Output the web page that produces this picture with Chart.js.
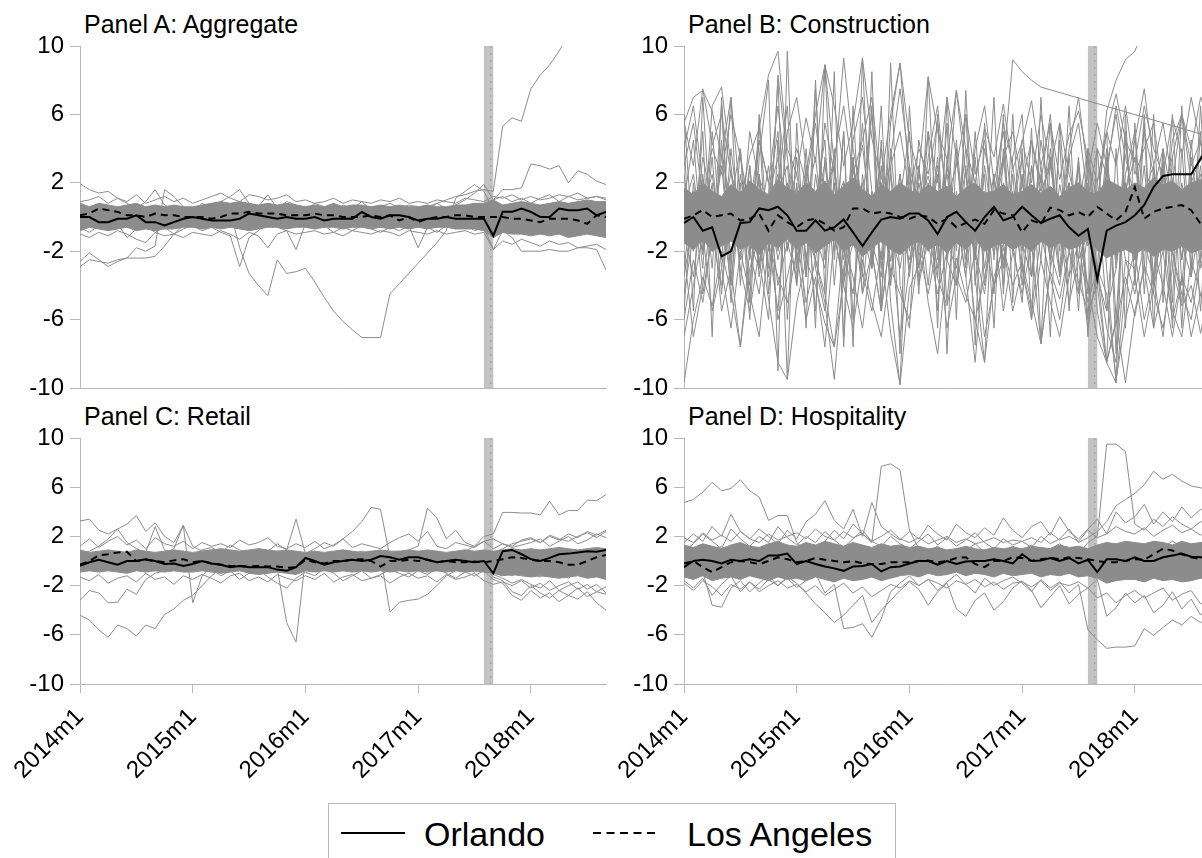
<!DOCTYPE html>
<html>
<head>
<meta charset="utf-8">
<script src="https://cdn.jsdelivr.net/npm/chart.js@4"></script>
<style>
  body { margin: 0; width: 1202px; height: 858px; overflow: hidden; background: #fff; position: relative;
         font-family: "Liberation Sans", Arial, sans-serif; color: #000; }
  canvas { position: absolute; }
  .ttl { position: absolute; font-size: 25px; line-height: 1; white-space: nowrap; }
  #legend { position: absolute; left: 328px; top: 803px; width: 566px; height: 80px; border: 1.5px solid #b8b8b8; background: #fff; }
  .lt { position: absolute; font-size: 34px; line-height: 1; white-space: nowrap; }
  svg { position: absolute; }
</style>
</head>
<body>
<div class="ttl" style="left:84px;top:12px">Panel A: Aggregate</div>
<div class="ttl" style="left:688px;top:12px">Panel B: Construction</div>
<div class="ttl" style="left:84px;top:404px">Panel C: Retail</div>
<div class="ttl" style="left:688px;top:404px">Panel D: Hospitality</div>

<canvas id="pA" width="620" height="410" style="left:0;top:0"></canvas>
<canvas id="pB" width="620" height="410" style="left:604px;top:0"></canvas>
<canvas id="pC" width="620" height="466" style="left:0;top:392px"></canvas>
<canvas id="pD" width="620" height="466" style="left:604px;top:392px"></canvas>

<div id="legend">
  <svg width="70" height="10" style="left:12px;top:24px"><line x1="0" y1="5" x2="64" y2="5" stroke="#000" stroke-width="2"/></svg>
  <div class="lt" style="left:95px;top:13px">Orlando</div>
  <svg width="70" height="10" style="left:264px;top:24px"><line x1="0" y1="5" x2="62" y2="5" stroke="#000" stroke-width="2" stroke-dasharray="8 5.5"/></svg>
  <div class="lt" style="left:358px;top:13px">Los Angeles</div>
</div>

<script>
// monthly index 0 = 2014m1 ... 56 = 2018m9
const xTickPos = [0, 12, 24, 36, 48];
const xTickLabels = ['2014m1', '2015m1', '2016m1', '2017m1', '2018m1'];
const yTicks = [-10, -6, -2, 2, 6, 10];
const bandFrom = 43, bandTo = 44; // 2017m8 - 2017m9

// ---------- Panel A: Aggregate ----------
const orlandoA = [
  0.0,0.0,-0.3,-0.3,-0.1,-0.1,0.1,-0.3,-0.3,-0.5,-0.3,-0.1,
  0.0,-0.1,-0.2,-0.2,-0.2,-0.1,0.2,0.1,0.0,-0.1,0.0,-0.1,
  -0.1,0.0,-0.2,-0.1,-0.1,-0.1,0.3,0.0,-0.1,0.1,0.1,0.0,
  -0.2,-0.1,-0.1,0.0,-0.1,-0.1,-0.1,-0.1,-1.1,0.3,0.3,0.5,
  0.3,0.0,0.0,0.5,0.4,0.4,0.5,0.1,0.3];
const laA = [
  0.1,0.2,0.5,0.4,0.3,0.1,0.1,0.0,0.2,0.1,0.1,0.0,
  0.0,0.0,-0.1,0.0,0.2,0.2,0.3,0.2,0.2,0.2,0.1,0.1,
  0.1,0.2,0.1,0.1,0.0,0.0,0.0,0.1,0.0,0.1,-0.2,0.0,
  -0.3,-0.1,0.0,0.0,0.1,0.1,0.0,0.0,0.0,0.0,-0.1,-0.1,
  -0.2,-0.3,-0.1,-0.1,-0.1,-0.2,-0.4,0.1,0.0];
const coreHiA = [
  0.8,0.6,0.8,0.7,0.6,0.7,0.8,0.6,0.7,0.6,0.7,0.6,
  0.6,0.7,0.8,0.9,0.8,0.9,0.8,0.7,0.8,0.7,0.8,0.7,
  0.6,0.7,0.6,0.8,0.6,0.7,0.7,0.6,0.7,0.6,0.7,0.6,
  0.6,0.7,0.6,0.6,0.7,0.7,0.8,0.8,1.0,0.7,0.8,0.9,
  0.8,0.7,0.8,0.9,0.8,0.9,1.0,0.9,0.9];
const coreLoA = [
  -0.8,-0.6,-0.7,-0.8,-0.7,-0.6,-0.8,-0.7,-0.8,-0.7,-0.7,-0.6,
  -0.6,-0.7,-0.6,-0.7,-0.6,-0.7,-0.8,-0.7,-0.6,-0.6,-0.7,-0.6,
  -0.6,-0.7,-0.6,-0.6,-0.7,-0.6,-0.6,-0.7,-0.6,-0.7,-0.6,-0.7,
  -0.6,-0.7,-0.6,-0.6,-0.7,-0.7,-0.7,-0.8,-1.2,-0.9,-1.0,-1.0,
  -1.1,-1.0,-1.1,-1.0,-1.2,-1.1,-1.0,-1.1,-1.2];
const greyA = [
  [0.3,0.1,0.4,0.2,0.0,0.3,0.1,0.2,0.4,0.1,0.2,0.0,
   0.3,0.1,0.2,0.4,0.1,0.3,0.2,0.0,0.2,0.3,0.1,0.4,
   0.2,0.1,0.3,0.0,0.2,0.1,0.3,0.2,0.1,0.4,0.2,0.3,
   0.5,0.6,0.8,1.0,1.2,1.3,1.5,1.6,1.5,5.3,5.8,5.6,
   7.5,8.3,8.9,9.7,10.6,11.2,11.8,12.3,12.6],
  [0.1,-0.2,0.0,-0.3,0.1,-0.1,0.2,0.0,-0.2,0.1,0.0,-0.3,
   0.1,-0.1,0.2,0.3,0.3,-1.8,-3.3,-4.0,-4.6,-2.5,-3.3,-3.2,
   -3.0,-3.8,-4.7,-5.5,-6.1,-6.6,-7.05,-7.05,-7.05,-4.5,-3.9,-3.3,
   -2.7,-2.1,-1.5,-0.8,1.1,1.5,1.9,1.5,0.4,0.2,-0.3,0.1,
   -0.2,0.0,0.3,-0.1,0.2,0.0,-0.2,0.1,0.0],
  [-2.6,-2.1,-2.5,-2.9,-2.6,-2.4,-2.4,-2.4,-2.3,-1.7,-1.0,-0.5,
   0.1,-0.2,0.3,0.0,-0.3,0.2,-0.1,0.3,0.0,-0.2,0.1,-0.4,
   0.0,0.2,-0.3,0.1,-0.1,0.3,0.0,-0.2,0.2,0.0,-0.1,0.2,
   -0.3,0.1,0.0,-0.2,0.3,0.0,-0.1,0.2,-0.6,0.0,-0.4,0.1,
   -0.3,0.2,-0.5,0.0,-0.2,0.3,-0.4,0.1,-0.3],
  [-2.9,-2.5,-2.6,-2.7,-2.5,-2.4,-1.8,-2.0,-1.7,1.6,1.2,0.6,
   0.2,-0.2,0.4,0.0,-0.3,0.2,0.5,0.1,-0.2,0.3,0.0,-0.2,
   -0.2,0.3,0.1,-0.3,0.2,0.0,0.4,-0.1,0.2,0.0,-0.3,0.1,
   0.2,-0.1,0.3,0.0,-0.2,0.4,0.1,-0.1,0.5,-0.3,0.2,0.0,
   0.3,-0.2,0.1,0.4,-0.1,0.2,0.0,0.3,0.1],
  [1.95,1.6,1.4,1.5,1.1,0.8,0.5,0.9,1.6,0.7,0.4,0.6,
   0.3,0.8,0.5,0.9,1.2,1.6,0.8,0.6,1.3,0.5,0.9,0.7,
   0.4,0.8,0.6,0.3,0.7,0.5,0.9,0.4,0.6,0.8,0.5,0.7,
   0.6,0.4,0.8,0.5,0.7,1.0,1.4,1.9,1.0,1.2,0.9,1.1,
   0.8,1.1,1.3,0.9,1.2,1.0,1.1,1.2,1.0],
  [-0.4,-0.1,-0.3,0.0,-0.2,-0.5,-0.1,-0.3,0.1,-0.2,-0.4,0.0,
   -0.2,-0.5,-0.1,-0.3,0.0,-0.6,-0.2,-0.4,-0.1,-0.3,0.0,-0.2,
   -0.5,-0.1,-0.3,0.0,-0.4,-0.2,-0.6,-0.1,-0.3,-0.5,0.0,-0.2,
   -0.4,-0.1,-0.3,0.0,-0.2,0.2,0.4,0.5,1.0,1.6,1.6,1.7,
   3.1,3.0,2.8,3.0,2.0,2.7,2.5,2.1,1.9],
  [-0.6,-0.9,-0.5,-0.8,-0.4,-1.2,-0.7,-0.5,-0.9,-0.6,-1.0,-0.7,
   -0.5,-0.8,-0.6,-0.9,-1.1,-2.9,-1.2,-0.8,-0.3,-0.6,-0.8,-1.9,
   -0.4,-0.7,-0.5,-0.9,-0.6,-0.8,-0.5,-0.7,-0.9,-0.6,-0.8,-0.5,
   -1.8,-0.6,-0.9,-0.5,-0.7,-0.4,-0.8,-0.6,-1.9,-0.8,-1.2,-2.0,
   -2.0,-2.0,-1.9,-2.0,-2.0,-1.8,-1.8,-1.9,-3.1],
  [0.9,1.0,1.2,0.8,1.1,0.9,1.3,0.8,1.0,1.2,0.9,1.1,
   0.8,1.0,1.2,1.4,1.1,0.9,1.3,1.2,1.0,1.1,1.3,0.9,
   1.0,0.8,0.9,1.1,0.8,1.0,0.9,0.8,1.0,0.9,1.1,0.8,
   0.9,0.8,1.0,0.9,0.8,1.1,1.0,0.9,1.2,1.1,1.3,1.0,
   1.2,1.0,1.1,1.3,1.2,1.4,1.1,1.2,1.1],
  [-1.0,-1.2,-0.9,-1.1,-0.8,-1.0,-1.3,-1.5,-0.9,-1.1,-1.0,-1.2,
   -0.9,-1.0,-1.1,-0.8,-1.0,-1.3,-0.9,-1.1,-1.8,-1.0,-0.8,-1.0,
   -0.9,-0.8,-1.0,-0.9,-1.1,-0.8,-0.9,-1.0,-0.8,-0.9,-1.1,-0.8,
   -0.9,-1.0,-0.8,-1.0,-0.9,-0.8,-1.0,-0.9,-1.9,-1.4,-1.6,-1.3,
   -1.5,-1.7,-1.4,-1.6,-1.5,-1.8,-1.7,-1.6,-1.9]
];

// ---------- Panel B: Construction ----------
const orlandoB = [
  -0.35,0.0,-0.8,-0.6,-2.3,-2.0,-0.35,-0.3,0.5,0.4,0.6,0.1,
  -0.8,-0.8,-0.2,-0.8,-0.6,-0.15,-0.9,-1.7,-0.9,-0.15,0.0,-0.1,
  0.2,0.2,-0.2,-1.0,0.0,0.3,-0.3,-0.8,0.0,0.6,-0.2,0.0,
  0.6,0.1,-0.35,-0.1,0.1,-0.6,-1.1,-0.7,-3.65,-0.8,-0.5,-0.3,
  0.1,0.7,1.75,2.4,2.5,2.5,2.5,3.4,4.2];
const laB = [
  -0.1,0.1,0.4,0.0,0.1,0.2,-0.2,-0.1,0.2,-0.8,0.1,-0.3,
  -0.6,-0.2,-0.1,-0.4,-0.8,-0.6,0.5,0.5,0.2,0.3,0.2,0.0,
  -0.1,0.1,0.0,-0.4,-0.1,-0.6,-0.35,-0.15,-0.4,0.4,0.2,0.1,
  -0.9,-0.2,-0.4,0.55,0.4,0.1,0.3,0.0,0.6,0.2,-0.2,0.3,
  1.75,-0.1,0.3,0.5,0.6,0.7,0.4,-0.4,-0.6];
const coreHiB = [
  1.7,1.3,2.0,1.5,1.2,1.9,1.4,2.1,1.6,1.3,2.2,1.7,
  1.4,2.0,1.5,2.1,1.3,1.8,2.3,1.6,1.2,1.9,1.5,2.0,
  1.6,1.3,1.9,1.5,1.8,1.2,1.7,2.0,1.4,1.5,1.9,1.3,
  1.5,1.9,1.4,1.8,1.2,1.7,2.0,1.5,1.3,2.2,1.9,1.6,
  2.0,1.7,2.3,1.9,2.1,1.6,2.0,2.2,1.8];
const coreLoB = [
  -1.5,-1.9,-1.3,-2.0,-1.7,-1.4,-1.9,-1.6,-2.2,-1.5,-1.8,-1.3,
  -1.9,-1.5,-2.1,-1.7,-1.3,-2.0,-1.6,-2.3,-1.8,-1.4,-1.9,-2.2,
  -1.7,-1.4,-1.9,-1.6,-2.1,-1.5,-1.9,-1.3,-2.0,-1.7,-1.5,-1.9,
  -1.6,-2.0,-1.4,-1.8,-1.5,-1.9,-1.7,-1.3,-1.9,-2.4,-2.1,-1.9,
  -2.2,-1.8,-2.3,-1.9,-2.0,-1.7,-2.1,-1.9,-1.8];
const greyB = [
  [5.5,7.0,7.4,6.2,3.5,1.0,-1.5,0.5,2.2,1.0,-0.5,0.8,
   -1.2,0.4,1.5,-0.8,0.6,2.1,-0.4,1.2,0.3,-1.5,0.7,1.8,
   -0.6,0.9,2.4,-0.2,1.1,-1.3,0.5,1.9,-0.7,0.3,3.0,9.2,
   8.5,8.0,7.6,null,null,null,null,null,null,null,null,null,
   null,null,null,null,null,null,null,null,4.7],
  [-1.5,0.8,-2.2,1.5,-0.4,2.6,-1.0,0.3,-2.8,1.2,3.5,-0.6,
   1.8,-2.4,0.5,3.1,-1.2,-3.5,1.6,4.2,-0.8,2.0,-2.6,0.9,
   -1.8,2.5,0.2,-3.0,1.4,-0.5,2.8,-1.6,0.6,-2.2,1.0,-0.3,
   2.2,-1.4,0.8,-2.5,1.9,-0.9,3.3,-1.7,0.4,6.2,8.0,9.2,
   9.7,11.0,12.0,12.5,13.0,13.5,14.0,14.0,14.5],
  [-9.7,-6.0,-3.5,-5.2,-2.0,-4.4,-7.6,-3.0,-1.2,-4.8,-8.5,-9.5,
   -5.0,-2.5,-4.0,-6.2,-7.6,-3.8,-1.5,-3.2,-5.5,-2.0,-6.8,-9.8,
   -4.2,-2.8,-1.0,-3.6,-5.2,-2.4,-4.6,-6.0,-8.5,-3.5,-1.8,-4.0,
   -2.6,-5.0,-7.4,-3.2,-4.8,-2.0,-3.8,-5.5,-4.0,-8.5,-6.2,-3.5,
   -5.8,-2.8,-4.5,-6.5,-3.0,-5.2,-4.0,-6.8,-3.8],
  [5.5,3.0,7.5,4.2,6.0,2.5,0.8,3.6,5.2,8.3,9.7,4.0,
   2.5,5.8,3.2,8.9,6.5,3.0,5.5,9.3,4.6,2.2,6.0,9.0,
   4.5,2.6,8.2,5.0,3.4,7.4,4.0,2.0,5.2,3.5,6.6,2.8,
   4.4,6.8,3.0,5.5,2.2,4.8,6.2,3.4,1.0,5.0,7.2,4.5,
   3.2,6.5,4.0,2.4,5.8,3.6,7.0,4.2,5.0],
  [4.5,-5.5,7.0,-2.0,6.5,-4.0,2.0,-6.0,3.5,8.0,-9.0,9.7,
   -4.0,3.0,-6.5,8.9,-2.5,5.0,-7.6,9.3,-3.0,4.5,-5.0,-9.8,
   3.0,-4.5,8.2,-2.5,5.5,-6.0,7.4,-3.5,-8.5,2.5,-4.0,6.0,
   -3.0,5.2,-7.4,3.5,-2.0,6.5,-4.5,2.0,-5.5,-8.5,4.0,-6.5,
   5.5,-3.0,6.0,-5.0,3.5,-6.5,4.5,-2.5,5.0],
  [-5.5,2.0,-3.0,5.0,-1.0,7.0,-4.0,3.0,-2.5,-6.0,4.5,-9.5,
   5.5,-3.5,8.0,-4.5,8.5,-7.6,3.5,-2.0,6.5,-5.5,9.0,-4.0,
   -6.5,3.0,-2.0,6.0,-8.0,4.0,-3.0,5.0,-2.0,7.0,-4.5,3.5,
   6.0,-3.5,2.5,-7.0,5.5,-2.0,3.0,-6.0,4.0,-3.0,-9.7,5.0,
   -2.5,6.0,-4.5,3.0,-6.5,4.0,-3.0,6.5,-4.0],
  [2.5,-1.5,3.5,1.0,-2.5,4.0,-0.5,2.0,-3.0,1.5,5.0,-2.0,
   3.5,-2.5,1.0,4.5,-4.0,2.0,-1.0,5.5,-2.5,3.0,-3.5,1.5,
   -2.0,4.5,1.5,-3.5,3.0,-1.0,4.0,-2.5,2.5,-4.5,2.0,0.5,
   3.5,-2.0,4.5,1.0,-3.0,3.5,-1.5,2.5,-4.0,3.0,-2.5,4.5,
   -1.5,3.0,-3.5,4.0,1.0,-2.5,3.5,-1.0,2.5],
  [-3.0,1.5,-4.5,-1.0,3.0,-2.5,1.0,-4.0,2.5,-1.5,-5.5,2.0,
   -2.0,4.0,-3.0,-5.5,2.5,-1.5,3.5,-4.5,1.5,-3.0,4.0,-2.0,
   3.0,-4.0,-1.0,2.5,-5.0,1.5,-2.5,3.5,-4.0,1.0,-3.0,2.5,
   -4.0,1.5,-2.5,4.0,-1.0,-3.5,2.0,-4.5,1.5,-5.5,-3.0,2.0,
   -3.5,1.0,-4.0,2.5,-2.0,-5.0,1.5,-3.0,-1.0],
  [1.0,4.5,-2.0,6.5,7.6,3.0,-1.5,5.0,2.0,-3.0,8.3,3.5,
   -1.0,2.5,6.0,8.9,3.0,-2.0,4.5,7.0,1.5,-2.5,5.5,9.0,
   2.0,-1.5,3.5,6.5,0.5,7.4,2.5,-2.0,4.0,1.0,5.5,3.0,
   -1.0,4.5,2.0,6.0,-0.5,3.5,5.5,1.0,4.0,2.5,6.5,3.5,
   1.0,5.0,2.5,-1.0,4.5,6.0,2.0,3.5,5.5],
  [-2.0,-7.0,-4.0,0.5,-5.5,-3.0,-7.6,-2.0,-4.5,0.0,-6.0,-3.5,
   -1.0,-5.0,-2.5,-4.5,-7.6,-1.5,-3.5,-6.5,-2.0,-5.5,-1.0,-7.0,
   -3.0,-0.5,-5.0,-8.0,-2.5,-4.0,-1.0,-6.0,-3.5,-0.5,-5.5,-2.0,
   -4.5,-1.5,-7.4,-3.0,-0.5,-5.0,-2.5,-6.5,-3.0,-8.5,-9.7,-4.0,
   -2.0,-6.0,-3.5,-1.0,-5.5,-7.0,-2.5,-4.5,-6.0],
  [0.5,2.5,-1.5,3.5,-3.0,1.0,4.0,-2.0,2.5,-3.5,1.5,3.0,
   -2.5,1.0,3.5,-1.5,2.0,-4.0,3.0,0.5,-2.0,4.0,-1.0,2.5,
   -3.5,1.5,-1.0,3.0,-2.5,4.5,-1.5,2.0,-3.0,1.0,3.5,-2.0,
   2.5,-3.5,1.0,3.5,-1.5,2.0,-2.5,4.0,-1.0,2.5,-3.0,1.5,
   3.5,-2.0,1.5,4.0,-3.0,2.0,-1.0,3.0,-2.5],
  [-4.5,-1.0,2.5,-3.0,4.5,-5.0,1.5,-2.0,5.5,-4.5,2.0,6.5,
   -3.0,1.5,-5.5,3.5,-2.0,5.0,-6.0,2.5,-1.5,6.5,-4.0,1.0,
   5.0,-3.0,2.0,-5.5,3.5,-2.0,6.0,-4.0,1.5,-6.5,4.0,-1.5,
   -5.0,3.0,-1.0,5.5,-3.5,1.0,-5.5,3.5,-2.0,4.0,-6.0,2.5,
   5.0,-4.5,3.0,-2.0,6.0,-4.0,2.5,-5.5,3.0],
  [-6.0,-2.5,-5.0,-1.0,-4.0,1.0,-3.0,-5.5,-2.0,0.5,-4.0,-1.5,
   -3.5,0.5,-2.5,-5.0,-9.5,-3.0,0.5,-4.5,-2.0,-5.5,-1.0,-3.0,
   0.5,-3.5,-1.5,-4.5,-2.0,0.0,-3.5,-8.5,-1.5,-4.0,-2.5,0.5,
   -3.0,-5.5,-1.0,-3.5,-6.0,-2.0,-4.5,-1.0,-3.0,-6.5,-8.5,-2.5,
   -4.5,-1.5,-3.5,-7.0,-2.0,-4.5,-6.0,-2.5,-4.0],
  [3.0,5.5,1.0,4.0,2.5,6.0,3.5,0.5,4.5,2.0,6.5,1.5,
   4.0,2.0,5.5,1.0,3.5,6.5,2.5,4.5,7.0,1.5,3.0,5.0,
   1.5,4.0,2.5,5.5,1.0,3.0,6.0,2.5,4.5,0.5,3.5,5.0,
   2.0,4.5,1.5,3.0,5.5,2.5,0.5,4.0,2.0,5.0,3.0,6.5,
   2.5,4.0,5.5,1.5,3.5,6.0,3.0,4.5,2.0],
  [-1.0,-3.5,1.0,-2.0,0.5,-4.0,2.5,-1.5,-3.0,1.0,-2.5,0.0,
   -4.0,1.5,-1.0,-3.0,2.0,-2.0,-4.5,1.0,-1.5,-3.5,2.5,-1.0,
   -2.5,0.5,-4.0,1.5,-1.5,-3.0,1.0,-2.0,-4.5,0.5,-2.5,1.5,
   -1.5,-3.5,1.0,-2.0,-4.0,0.5,-2.5,-1.0,-3.5,-5.5,1.0,-2.5,
   -3.0,0.5,-2.0,-4.0,1.5,-1.5,-3.5,0.0,-2.5],
  [6.0,-2.0,5.0,-7.0,7.0,-3.0,4.0,-5.0,6.0,-2.0,8.0,-6.0,
   2.0,-6.5,7.5,-2.5,4.0,-7.0,6.5,-3.5,8.5,-5.0,3.0,-8.0,
   6.5,-2.0,5.0,-6.5,7.0,-4.0,3.0,-7.5,5.5,-2.5,6.0,-5.0,
   4.0,-6.0,7.0,-3.0,4.5,-5.5,3.5,-7.0,2.0,5.0,-8.0,6.0,
   -4.0,5.5,-6.5,3.5,-5.0,6.5,-3.5,5.0,-6.0],
  [1.5,-2.0,0.5,2.5,-1.5,1.0,-2.5,2.0,-0.5,3.0,-2.0,1.0,
   2.5,-1.0,-2.5,1.5,3.0,-2.0,0.5,2.0,-3.0,1.0,-1.5,2.5,
   -1.0,3.0,-2.0,0.5,2.5,-1.5,1.0,-2.5,3.0,-0.5,1.5,-2.0,
   2.0,-1.0,3.0,-2.5,0.5,2.0,-1.5,1.5,-3.0,3.5,-1.0,2.0,
   -2.5,1.5,3.0,-1.0,2.0,-2.5,1.0,2.5,-1.5],
  [-3.5,0.0,-2.0,2.0,-4.5,1.5,-1.0,3.0,-3.5,0.5,2.5,-2.0,
   1.0,-3.5,2.5,-1.5,0.5,-2.5,3.0,-1.0,-3.0,2.0,-0.5,1.5,
   -3.0,2.0,-1.0,3.5,-2.5,0.5,-3.5,1.5,-1.0,2.5,-3.0,1.0,
   -2.0,3.0,-1.5,0.5,-3.5,2.0,-1.0,-4.0,-7.0,-8.5,-6.0,-9.7,
   -5.5,-3.0,-6.5,-4.0,-7.0,-3.5,-5.0,-2.0,-4.5],
  [4.0,6.5,2.0,-1.0,3.5,7.0,1.0,-2.5,4.5,2.0,-1.5,5.0,
   7.0,3.0,-0.5,5.5,2.5,9.3,4.0,1.0,6.0,-1.0,3.5,7.5,
   3.0,0.5,5.0,2.0,7.0,3.5,-1.0,4.0,6.5,2.0,5.0,0.5,
   4.5,2.0,6.0,3.0,-0.5,4.0,7.0,2.5,5.5,3.0,6.0,1.5,
   4.5,7.5,3.0,5.5,2.0,6.0,4.0,7.0,5.5],
  [-7.0,-4.0,-1.0,-5.5,-3.0,-6.5,-2.0,-4.5,-7.0,-1.5,-3.5,-5.0,
   -2.0,-6.0,-3.5,-7.6,-1.0,-4.0,-6.5,-2.5,-5.0,-7.0,-3.0,-4.5,
   -6.0,-2.0,-4.5,-1.5,-6.5,-3.5,-5.0,-2.0,-7.0,-4.0,-1.5,-5.5,
   -3.0,-6.0,-2.5,-5.0,-7.0,-3.5,-1.5,-5.0,-3.0,-4.5,-9.5,-6.0,
   -3.5,-7.0,-4.0,-2.0,-6.0,-3.5,-7.0,-4.5,-5.5]
];

// ---------- Panel C: Retail ----------
const orlandoC = [
  -0.4,-0.1,0.1,-0.1,-0.3,0.0,0.0,0.15,0.0,-0.25,-0.2,-0.4,
  -0.25,0.0,-0.2,-0.3,-0.5,-0.4,-0.5,-0.5,-0.5,-0.7,-0.8,-0.5,
  0.25,0.0,-0.3,-0.1,0.0,0.1,0.0,0.1,0.4,0.3,0.1,0.3,
  0.3,0.1,-0.1,0.0,0.1,0.0,-0.1,0.0,-1.0,0.8,0.9,0.55,
  0.15,0.0,0.25,0.55,0.6,0.7,0.8,0.75,0.9];
const laC = [
  -0.3,0.0,0.45,0.55,0.7,0.75,0.0,0.1,0.0,-0.1,0.05,0.15,
  -0.1,0.0,-0.2,-0.3,-0.4,-0.4,-0.45,-0.4,-0.45,-0.45,-0.55,-0.5,
  0.1,-0.1,-0.2,0.0,0.0,0.1,0.15,0.0,-0.45,0.0,0.0,0.1,
  0.0,0.1,-0.1,0.0,-0.1,-0.1,-0.05,-0.1,0.0,0.15,0.3,0.25,
  0.1,0.0,0.0,-0.1,-0.3,-0.3,0.0,0.3,0.5];
const coreHiC = [
  0.9,0.7,0.8,0.9,0.8,0.7,0.9,0.8,0.7,0.8,0.9,0.8,
  0.7,0.8,0.9,1.0,0.9,0.8,0.9,1.0,0.9,0.8,0.9,0.8,
  0.7,0.8,0.7,0.8,0.9,0.8,0.7,0.8,0.9,0.8,0.8,0.9,
  0.8,0.9,0.8,0.7,0.8,0.9,0.8,0.9,0.8,0.9,1.0,0.9,
  1.0,0.9,1.0,1.1,1.0,0.9,1.0,1.1,1.0];
const coreLoC = [
  -0.9,-0.8,-0.9,-0.8,-0.9,-1.0,-0.8,-0.9,-0.8,-0.9,-0.8,-0.9,
  -0.9,-0.8,-0.9,-1.0,-0.9,-0.8,-1.0,-1.1,-1.0,-0.9,-1.0,-1.1,
  -0.8,-0.9,-0.8,-0.9,-0.8,-0.9,-0.8,-0.9,-0.8,-0.9,-0.8,-0.9,
  -0.8,-0.9,-0.8,-0.9,-0.8,-0.9,-0.8,-0.9,-1.0,-1.2,-1.1,-1.2,
  -1.3,-1.2,-1.3,-1.4,-1.3,-1.2,-1.4,-1.3,-1.5];
const greyC = [
  [0.5,0.2,0.6,0.3,0.1,0.4,0.2,0.5,0.3,0.1,0.4,0.2,
   0.3,0.5,0.1,0.4,0.2,0.6,0.3,0.1,0.5,0.2,0.4,0.3,
   0.2,0.4,0.6,0.3,0.5,0.1,0.4,0.2,0.5,0.3,0.6,0.4,
   0.3,0.5,0.2,0.6,0.4,0.8,1.2,2.0,2.2,3.95,3.95,3.9,
   3.9,3.75,4.85,3.75,4.1,4.1,4.95,4.9,5.4],
  [-4.4,-4.8,-5.6,-6.2,-5.2,-5.5,-6.1,-5.2,-5.5,-4.35,-3.9,-3.2,
   -2.8,-2.0,-1.2,-0.6,-0.8,-0.5,-0.9,-0.6,-0.8,-0.4,-0.7,-0.5,
   -0.6,-0.3,-0.7,-0.5,-0.4,-0.6,-0.5,-0.3,-0.6,-0.4,-0.5,-0.7,
   -0.5,-0.6,-0.4,-0.7,-0.5,-0.3,-0.6,-0.5,-0.8,-1.0,-1.2,-0.9,
   -1.0,-1.3,-0.8,-1.1,-1.4,-0.9,-1.2,-1.0,-1.3],
  [-3.2,-2.4,-2.6,-3.4,-3.35,-2.3,-2.7,-1.5,-1.0,-0.8,-0.5,-0.7,
   -0.4,-0.8,-0.5,-0.6,-0.3,-0.7,-0.5,-0.4,-0.6,-0.8,-0.5,-0.3,
   -0.5,-0.7,-0.4,-0.6,-0.8,-0.5,-0.3,-0.6,-0.4,-0.7,-0.5,-0.6,
   -0.4,-0.6,-0.8,-0.5,-0.7,-0.4,-0.6,-0.5,-1.3,-1.6,-2.5,-2.8,
   -2.0,-2.6,-3.0,-2.4,-2.8,-2.2,-2.9,-2.5,-2.7],
  [3.25,3.4,2.5,2.2,2.6,3.0,3.7,2.4,3.1,2.0,1.5,2.9,
   1.2,0.8,0.9,0.6,0.8,0.5,0.7,0.9,0.6,0.8,0.5,0.7,
   0.6,0.8,0.5,0.7,0.9,0.6,0.8,0.5,0.7,0.6,0.8,0.5,
   0.7,0.6,0.8,0.5,0.7,0.9,0.6,0.8,0.7,1.0,1.4,1.6,
   1.8,1.5,2.0,1.7,2.2,1.9,2.4,2.1,2.5],
  [0.2,0.5,0.1,0.4,0.6,0.3,0.8,0.4,0.2,0.6,1.0,2.9,
   -3.4,-1.2,-0.5,0.2,0.6,0.3,0.7,0.9,0.4,-0.6,-5.0,-6.6,
   0.2,0.5,0.3,0.6,0.4,0.2,0.5,0.8,0.4,-4.15,-3.35,-3.2,
   -3.1,-2.7,-2.0,-1.2,-0.8,-0.5,-0.9,-0.6,-1.1,-1.4,-1.8,-1.5,
   -1.9,-2.2,-1.6,-2.4,-2.0,-1.7,-2.3,-1.9,-2.6],
  [0.5,0.8,1.2,1.8,2.6,1.5,1.0,0.7,2.8,0.9,0.6,0.8,
   0.5,0.9,1.1,0.7,1.3,0.9,0.6,1.0,0.8,1.4,0.9,3.4,
   0.6,1.0,1.5,1.2,1.8,2.4,3.2,4.35,4.2,0.3,0.6,0.9,
   1.2,4.3,3.5,1.8,2.5,1.5,1.2,1.6,1.0,1.4,1.1,1.3,
   1.5,1.8,1.2,1.6,2.0,1.4,1.7,2.2,1.9],
  [-0.5,-0.3,-0.7,-0.4,-0.6,-0.2,-0.5,-0.8,-0.4,-0.6,-0.3,-0.5,
   -0.7,-0.4,-0.6,-1.2,-0.8,-1.5,-1.0,-0.7,-1.3,-1.8,-2.2,-1.4,
   -0.9,-1.2,-0.6,-1.0,-1.6,-1.2,-0.8,-1.4,-1.1,-0.7,-1.0,-1.3,
   -0.8,-1.1,-0.6,-1.0,-1.4,-0.9,-1.2,-0.8,-1.5,-1.8,-2.8,-3.2,
   -2.4,-3.0,-2.6,-3.3,-2.8,-3.1,-2.5,-3.4,-4.0],
  [1.2,1.8,1.1,1.6,2.0,1.3,1.7,1.0,1.9,1.4,1.2,1.6,
   1.0,1.5,1.2,1.4,1.1,1.7,1.3,1.5,1.9,1.2,1.0,1.4,
   1.1,1.6,1.0,1.3,1.8,1.1,1.4,1.2,1.0,1.5,1.9,2.2,
   1.6,2.4,1.2,1.0,1.5,1.3,1.1,1.6,1.8,1.4,1.2,1.7,
   1.9,1.5,2.1,1.8,1.6,2.0,2.3,1.9,2.4],
  [-1.3,-1.6,-1.1,-1.8,-1.4,-1.2,-1.7,-1.0,-1.5,-1.3,-1.9,-1.2,
   -1.5,-1.1,-1.4,-1.8,-1.2,-1.0,-1.6,-1.3,-1.7,-1.1,-1.4,-1.6,
   -1.2,-1.5,-1.0,-1.7,-1.3,-1.1,-1.6,-1.4,-1.2,-1.8,-1.3,-1.0,
   -1.4,-1.2,-1.7,-1.1,-1.5,-1.3,-1.0,-1.6,-1.9,-1.7,-2.0,-1.6,
   -2.2,-1.8,-2.4,-2.0,-1.7,-2.3,-1.9,-2.5,-2.1]
];

// ---------- Panel D: Hospitality ----------
const orlandoD = [
  -0.5,0.0,0.1,0.0,-0.2,0.1,0.0,0.15,0.0,0.45,0.45,0.6,
  -0.25,0.0,-0.25,-0.45,-0.6,-0.8,-0.45,-0.4,-0.25,-0.85,-0.5,-0.45,
  -0.2,0.0,0.0,-0.3,0.0,-0.25,-0.05,0.0,0.0,0.15,0.0,-0.2,
  0.55,0.0,0.05,0.25,0.0,0.25,-0.2,0.1,-0.9,0.15,0.15,0.0,
  0.3,0.0,0.0,0.3,0.45,0.6,0.35,0.3,0.25];
const laD = [
  -0.2,0.0,-0.5,-0.9,-0.5,-0.1,0.0,-0.1,-0.25,0.0,0.3,0.15,
  -0.1,0.0,0.25,0.1,0.0,-0.1,0.0,-0.2,-0.25,-0.25,-0.1,-0.1,
  -0.1,0.0,0.05,-0.1,0.0,0.25,0.3,-0.25,-0.5,0.0,0.0,0.3,
  0.25,0.0,0.15,0.25,0.15,0.3,0.25,0.15,0.0,-0.1,-0.1,0.0,
  0.15,0.1,0.55,1.0,0.85,0.55,0.3,0.15,0.1];
const coreHiD = [
  1.3,1.1,1.4,1.2,1.0,1.3,1.5,1.2,1.1,1.4,1.6,1.3,
  1.2,1.5,1.3,1.6,1.4,1.2,1.5,1.3,1.1,1.4,1.2,1.3,
  1.1,1.2,1.0,1.1,0.9,1.0,1.2,1.0,0.9,1.1,1.0,1.1,
  1.0,1.2,1.1,1.0,1.3,1.1,1.2,1.0,1.3,1.5,1.4,1.6,
  1.5,1.4,1.6,1.5,1.3,1.6,1.4,1.5,1.6];
const coreLoD = [
  -1.3,-1.5,-1.2,-1.6,-1.4,-1.3,-1.5,-1.2,-1.4,-1.6,-1.3,-1.5,
  -1.4,-1.6,-1.3,-1.5,-1.7,-1.4,-1.6,-1.5,-1.3,-1.6,-1.4,-1.2,
  -1.1,-1.3,-1.0,-1.2,-1.1,-0.9,-1.2,-1.0,-1.1,-1.3,-1.0,-1.2,
  -1.1,-1.0,-1.3,-1.1,-1.2,-1.0,-1.3,-1.2,-1.4,-1.8,-1.6,-1.5,
  -1.5,-1.7,-1.4,-1.6,-1.5,-1.7,-1.6,-1.4,-1.6];
const greyD = [
  [4.75,5.0,5.6,6.4,5.7,5.9,6.6,5.7,5.2,3.3,3.7,3.7,
   1.5,0.8,1.2,0.6,0.9,0.5,1.0,0.7,0.4,0.8,0.6,0.9,
   0.5,0.7,1.0,0.6,0.8,0.4,0.7,0.5,0.9,0.6,0.8,0.5,
   0.7,0.9,0.6,0.8,0.5,0.7,1.0,0.8,0.6,0.9,1.1,0.8,
   1.0,0.7,0.9,1.2,0.8,1.1,0.9,1.3,1.0],
  [0.6,1.0,0.4,0.8,1.2,0.7,1.5,0.9,0.5,1.1,0.8,1.3,
   0.7,1.2,0.9,1.6,2.5,1.8,3.0,2.2,1.5,7.7,7.9,7.4,
   2.5,1.0,0.8,1.2,0.6,1.0,0.9,1.4,0.7,1.1,0.8,1.2,
   0.9,1.3,0.7,1.0,1.4,0.8,1.2,0.9,1.1,1.5,1.2,1.0,
   1.3,0.9,1.4,1.1,1.6,1.2,1.0,1.5,1.3],
  [-0.5,0.3,-0.2,0.6,0.1,-0.4,0.5,0.2,-0.3,0.4,0.0,0.3,
   0.2,-0.3,0.5,0.1,-0.2,0.4,0.0,0.3,-0.4,0.2,0.5,0.1,
   -0.2,0.3,0.6,0.0,0.4,-0.3,0.2,0.5,0.1,-0.2,0.4,0.0,
   0.3,-0.1,0.5,0.2,0.0,0.4,0.6,1.5,2.0,9.5,9.5,8.9,
   3.0,2.5,3.4,2.8,3.6,3.0,2.6,3.2,2.9],
  [0.8,1.4,2.2,1.6,1.0,2.6,1.8,1.2,2.0,1.5,2.8,1.9,
   1.3,2.0,1.5,2.4,1.7,1.1,1.8,2.5,1.6,1.2,2.0,1.4,
   1.0,1.6,2.2,1.3,1.9,1.2,1.7,2.3,1.5,1.0,1.8,1.3,
   1.6,1.1,2.0,1.4,1.8,2.6,1.5,1.9,2.4,3.2,4.5,5.0,
   5.5,6.2,7.3,6.65,7.05,6.5,6.1,5.95,5.8],
  [-0.8,-1.5,-0.9,-3.6,-3.75,-2.2,-1.6,-2.5,-1.8,-1.2,-2.0,-1.4,
   -2.15,-1.6,-1.0,-2.6,-1.9,-5.5,-5.4,-5.1,-6.2,-4.7,-2.5,-1.8,
   -1.2,-2.0,-1.5,-2.4,-1.7,-1.1,-1.9,-2.6,-1.4,-2.0,-1.6,-1.3,
   -1.8,-2.5,-1.5,-2.2,-1.7,-2.6,-1.9,-5.6,-6.4,-7.1,-7.0,-7.0,
   -6.9,-5.5,-6.05,-5.4,-4.8,-5.2,-4.5,-5.0,-4.6],
  [-1.6,-2.2,-1.4,-2.8,-1.9,-1.2,-2.5,-1.7,-2.3,-1.5,-2.0,-1.3,
   -1.8,-2.6,-3.5,-4.2,-5.0,-4.4,-3.6,-2.8,-5.0,-4.0,-3.2,-2.4,
   -1.7,-2.3,-3.6,-2.5,-1.8,-3.9,-4.5,-3.2,-2.6,-4.0,-3.3,-2.2,
   -1.6,-2.4,-3.8,-2.9,-2.0,-3.5,-2.7,-2.2,-1.5,-4.5,-3.8,-2.6,
   -3.4,-2.8,-4.2,-3.6,-2.5,-3.9,-3.1,-4.4,-3.5],
  [1.5,2.2,1.6,2.8,2.0,3.8,2.4,1.8,2.6,2.0,1.4,2.5,
   1.8,3.2,3.8,4.9,3.3,2.6,4.2,2.0,4.75,2.8,2.2,1.7,
   2.4,1.8,2.9,2.2,1.7,3.0,2.3,1.9,2.7,2.1,3.5,2.5,
   1.9,2.8,3.2,2.1,3.6,2.4,1.8,2.6,3.4,2.2,4.0,3.1,
   3.6,4.6,3.0,4.0,3.2,4.4,3.5,4.2,3.8],
  [1.9,1.5,2.3,1.7,2.1,1.6,2.4,1.8,1.5,2.2,1.7,2.0,
   2.3,1.8,2.6,2.0,1.7,2.4,1.9,2.2,1.6,2.0,2.5,1.8,
   1.5,1.9,1.4,1.7,2.0,1.5,1.8,1.4,1.6,1.9,1.5,1.7,
   1.6,1.9,1.5,2.3,1.7,2.0,1.6,2.5,1.9,2.2,2.8,2.4,
   2.2,2.7,2.0,2.5,2.9,2.3,2.6,2.1,2.8],
  [-1.8,-2.4,-1.6,-2.1,-2.8,-1.9,-2.3,-1.7,-2.5,-2.0,-1.6,-2.2,
   -1.9,-2.5,-2.0,-2.8,-2.3,-1.8,-2.6,-2.1,-2.9,-2.4,-1.9,-2.2,
   -1.6,-2.0,-1.5,-1.8,-2.2,-1.6,-1.9,-1.5,-2.1,-1.7,-2.3,-1.8,
   -1.7,-2.1,-1.6,-2.4,-1.8,-2.0,-1.7,-2.2,-3.0,-2.6,-3.4,-2.8,
   -2.4,-3.0,-2.6,-2.2,-3.2,-2.7,-2.4,-3.5,-2.9]
];

const GREY = '#8c8c8c';
const AXIS = '#b8b8b8';
Chart.defaults.font.family = '"Liberation Sans", Arial, sans-serif';
Chart.defaults.color = '#000';

// shaded event window
const bandPlugin = {
  id: 'eventBand',
  beforeDatasetsDraw(chart) {
    const { ctx, chartArea: a, scales: { x } } = chart;
    const x0 = x.getPixelForValue(bandFrom);
    const x1 = x.getPixelForValue(bandTo);
    ctx.save();
    ctx.fillStyle = '#c2c2c2';
    ctx.fillRect(x0, a.top, x1 - x0, a.bottom - a.top);
    ctx.strokeStyle = '#9a9a9a';
    ctx.lineWidth = 1;
    ctx.setLineDash([2, 5]);
    ctx.beginPath();
    ctx.moveTo(x1 - 2.5, a.top);
    ctx.lineTo(x1 - 2.5, a.bottom);
    ctx.stroke();
    ctx.restore();
  }
};

const pts = (arr) => arr.map((v, i) => ({ x: i, y: v }));

function makePanel(id, d, showX) {
  const datasets = [
    { data: pts(d.orlando), borderColor: '#000', borderWidth: 2 },
    { data: pts(d.la), borderColor: '#000', borderWidth: 2, borderDash: [7, 5] },
    ...d.greys.map((g) => ({ data: pts(g), borderColor: GREY, borderWidth: 1 })),
    { data: pts(d.hi), borderColor: GREY, borderWidth: 1, backgroundColor: GREY, fill: '+1' },
    { data: pts(d.lo), borderColor: GREY, borderWidth: 1 },
  ];
  new Chart(document.getElementById(id), {
    type: 'line',
    data: { datasets },
    options: {
      responsive: false,
      animation: false,
      devicePixelRatio: 1,
      spanGaps: true,
      layout: { padding: { top: 46, right: 14, bottom: showX ? 0 : 22, left: 0 } },
      elements: { point: { radius: 0 }, line: { tension: 0, fill: false } },
      plugins: { legend: { display: false }, tooltip: { enabled: false } },
      scales: {
        x: {
          type: 'linear', min: 0, max: 56,
          afterBuildTicks: (s) => { s.ticks = xTickPos.map((v) => ({ value: v })); },
          afterFit: (s) => { s.height = showX ? 174 : 0; },
          grid: { display: showX, drawOnChartArea: false, tickLength: 9, color: AXIS },
          border: { display: true, color: AXIS, width: 1 },
          ticks: {
            display: showX, autoSkip: false, minRotation: 45, maxRotation: 45, padding: 10,
            font: { size: 24 },
            callback: (v) => xTickLabels[xTickPos.indexOf(v)],
          },
        },
        y: {
          min: -10, max: 10,
          afterBuildTicks: (s) => { s.ticks = yTicks.map((v) => ({ value: v })); },
          afterFit: (s) => { s.width = 80; },
          grid: { drawOnChartArea: false, tickLength: 10, color: AXIS },
          border: { color: AXIS, width: 1 },
          ticks: { padding: 6, font: { size: 24 } },
        },
      },
    },
    plugins: [bandPlugin],
  });
}

makePanel('pA', { orlando: orlandoA, la: laA, greys: greyA, hi: coreHiA, lo: coreLoA }, false);
makePanel('pB', { orlando: orlandoB, la: laB, greys: greyB, hi: coreHiB, lo: coreLoB }, false);
makePanel('pC', { orlando: orlandoC, la: laC, greys: greyC, hi: coreHiC, lo: coreLoC }, true);
makePanel('pD', { orlando: orlandoD, la: laD, greys: greyD, hi: coreHiD, lo: coreLoD }, true);
</script>
</body>
</html>
